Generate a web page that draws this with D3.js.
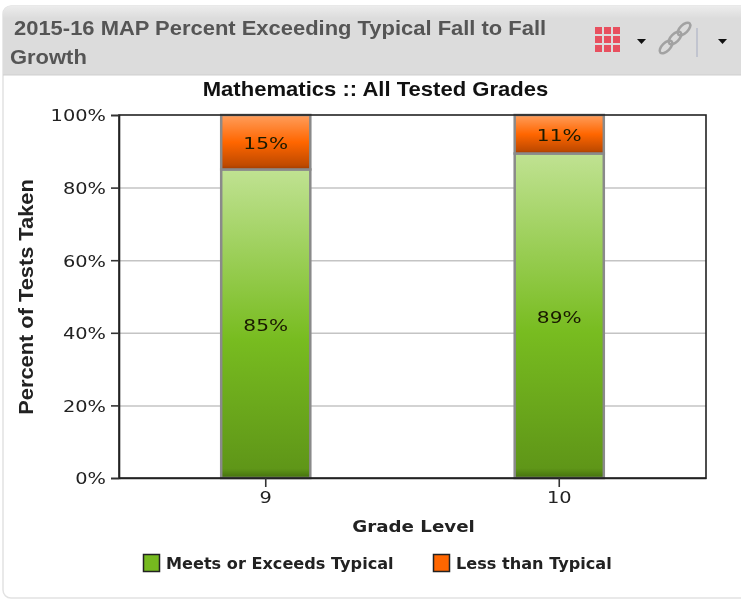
<!DOCTYPE html>
<html><head><meta charset="utf-8">
<script src="https://cdn.jsdelivr.net/npm/d3@7"></script>
<style>html,body{margin:0;padding:0;background:#fff}svg{display:block;filter:blur(0.35px)}</style>
</head><body><div id="c"></div>
<script>
const grades = ["9","10"];
const meets = [85, 89.4];
const less = [15, 10.6];
const yTicks = [0,20,40,60,80,100];
const seriesNames = ["Meets or Exceeds Typical","Less than Typical"];
const headerLines = ["2015-16 MAP Percent Exceeding Typical Fall to Fall","Growth"];
const chartTitle = "Mathematics :: All Tested Grades";
const xTitle = "Grade Level", yTitle = "Percent of Tests Taken";
const W=741,H=599,m={l:119,r:706,t:115,b:478};
const verd='"DejaVu Sans",Verdana,sans-serif', ar='"Liberation Sans",Arial,sans-serif';
const svg=d3.select("#c").append("svg").attr("width",W).attr("height",H);
const defs=svg.append("defs");
function grad(id,stops){const g=defs.append("linearGradient").attr("id",id).attr("x1",0).attr("x2",0).attr("y1",0).attr("y2",1);
 stops.forEach(s=>g.append("stop").attr("offset",s[0]).attr("stop-color",s[1]));}
grad("gGreen",[[0,"#c0e292"],[0.55,"#78bc20"],[0.97,"#5f9618"],[1,"#44700e"]]);
grad("gOrange",[[0,"#ff9e5c"],[0.5,"#ff6600"],[0.92,"#c04a00"],[1,"#a03c00"]]);
grad("gHead",[[0,"#ececec"],[0.18,"#dcdcdc"],[1,"#dcdcdc"]]);
// widen a text selection so it matches the reference's wider rendering
function stretch(sel,f){sel.each(function(){this.setAttribute("textLength",this.getComputedTextLength()*f);this.setAttribute("lengthAdjust","spacingAndGlyphs");});}

// panel
svg.append("rect").attr("x",3).attr("y",6).attr("width",745).attr("height",592).attr("rx",8).attr("fill","#fff").attr("stroke","#e2e2e2").attr("stroke-width",1.5);
svg.append("path").attr("d","M3 75V14a8 8 0 0 1 8-8H741V75Z").attr("fill","url(#gHead)");
svg.append("line").attr("x1",3).attr("x2",741).attr("y1",75).attr("y2",75).attr("stroke","#cfcfcf");
svg.selectAll(".hd").data(headerLines).join("text").attr("class","hd")
 .attr("x",(d,i)=>i?10:14).attr("y",(d,i)=>35+i*29).attr("font-family",ar).attr("font-weight","bold").attr("font-size",21)
 .attr("fill","#555").text(d=>d).call(stretch,1.045);

// header icons
const ic=svg.append("g");
ic.selectAll("rect").data(d3.cross([0,1,2],[0,1,2])).join("rect")
 .attr("x",d=>595+d[0]*9).attr("y",d=>27+d[1]*9).attr("width",7).attr("height",7).attr("fill","#e8505f");
[[637,39],[718,39]].forEach(p=>ic.append("path").attr("d",`M${p[0]} ${p[1]}h9l-4.5 5z`).attr("fill","#111"));
[[666,47],[675,38],[684,29]].forEach(p=>ic.append("ellipse").attr("cx",p[0]).attr("cy",p[1]).attr("rx",8).attr("ry",4)
 .attr("transform",`rotate(-45 ${p[0]} ${p[1]})`).attr("fill","none").attr("stroke","#a2a2a2").attr("stroke-width",2.5));
ic.append("line").attr("x1",697).attr("x2",697).attr("y1",28).attr("y2",57).attr("stroke","#b9bccb").attr("stroke-width",1.5);

// scales
const x=d3.scaleBand().domain(grades).range([m.l,m.r]).paddingInner(0.693).paddingOuter(0.3465);
const y=d3.scaleLinear().domain([0,100]).range([m.b,m.t]);
svg.append("text").attr("x",375.5).attr("y",96).attr("text-anchor","middle").attr("font-family",ar).attr("font-weight","bold").attr("font-size",21).attr("fill","#111").text(chartTitle).call(stretch,1.05);

// grid
svg.append("g").selectAll("line").data(yTicks.slice(1,-1)).join("line")
 .attr("x1",m.l).attr("x2",m.r).attr("y1",d=>y(d)+.5).attr("y2",d=>y(d)+.5).attr("stroke","#c4c4c4").attr("stroke-width",1.5);

// bars
const rows=grades.map((g,i)=>({g,meets:meets[i],less:less[i]}));
const stack=d3.stack().keys(["meets","less"])(rows);
const fills=["url(#gGreen)","url(#gOrange)"];
stack.forEach((s,k)=>{
 const gg=svg.append("g");
 gg.selectAll("rect").data(s).join("rect")
  .attr("x",d=>x(d.data.g)+0.5).attr("width",x.bandwidth()-1)
  .attr("y",d=>y(d[1])).attr("height",d=>y(d[0])-y(d[1]))
  .attr("fill",fills[k]).attr("stroke","#8a8a8a").attr("stroke-width",2.5);
 gg.selectAll("text").data(s).join("text")
  .attr("x",d=>x(d.data.g)+x.bandwidth()/2).attr("y",d=>(y(d[0])+y(d[1]))/2+7)
  .attr("text-anchor","middle").attr("font-family",verd).attr("font-size",16.5).attr("fill","#1a1a00")
  .text(d=>Math.round(d[1]-d[0])+"%").call(stretch,1.22);
});

// frame & axes
svg.append("rect").attr("x",m.l).attr("y",m.t).attr("width",m.r-m.l).attr("height",m.b-m.t).attr("fill","none").attr("stroke","#222").attr("stroke-width",1.6);
const ya=svg.append("g").attr("transform",`translate(${m.l},0)`).call(d3.axisLeft(y).tickValues(yTicks).tickFormat(d=>d+"%").tickSize(8).tickPadding(5));
const xa=svg.append("g").attr("transform",`translate(0,${m.b})`).call(d3.axisBottom(x).tickSize(9).tickSizeOuter(0).tickPadding(5));
[ya,xa].forEach(a=>{a.select(".domain").attr("stroke","#222").attr("stroke-width",1.6);
 a.selectAll(".tick line").attr("stroke","#333").attr("stroke-width",1.6);
 a.selectAll("text").attr("font-family",verd).attr("font-size",15.5).attr("fill","#222").call(stretch,1.25);});
ya.selectAll("text").attr("dy","0.38em");
svg.append("text").attr("x",413.5).attr("y",532).attr("text-anchor","middle").attr("font-family",verd).attr("font-weight","bold").attr("font-size",16).attr("fill","#222").text(xTitle).call(stretch,1.14);
svg.append("text").attr("transform","translate(33,297) rotate(-90)").attr("text-anchor","middle").attr("font-family",ar).attr("font-weight","bold").attr("font-size",20).attr("fill","#222").text(yTitle).call(stretch,1.09);

// legend
const lg=svg.append("g").selectAll("g").data(seriesNames).join("g").attr("transform",(d,i)=>`translate(${[143,433][i]},554)`);
lg.append("rect").attr("x",.5).attr("y",.5).attr("width",16).attr("height",17).attr("fill",(d,i)=>["#76ba1f","#ff6600"][i]).attr("stroke","#222").attr("stroke-width",1.5);
lg.append("text").attr("x",23).attr("y",15).attr("font-family",verd).attr("font-weight","bold").attr("font-size",15.5).attr("fill","#222").text(d=>d).call(stretch,1.04);
</script></body></html>
